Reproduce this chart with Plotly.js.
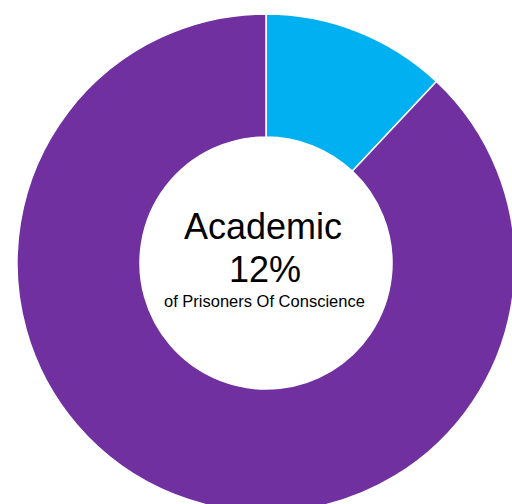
<!DOCTYPE html>
<html>
<head>
<meta charset="utf-8">
<script src="https://cdn.plot.ly/plotly-3.0.1.min.js"></script>
<style>
html, body { margin: 0; padding: 0; overflow: hidden; background: #fff; width: 512px; height: 504px; }
#chart { width: 532px; height: 526px; }
</style>
</head>
<body>
<div id="chart"></div>
<script>
const categories = ['Academic', 'Other'];
const values = [12, 88];
const colors = ['#00B0F0', '#7030A0'];
const centerTitle = 'Academic';
const centerValue = '12%';
const centerSubtitle = 'of Prisoners Of Conscience';

const W = 532, H = 526;
const py = p => (H - p) / H;

const data = [{
  type: 'pie',
  labels: categories,
  values: values,
  hole: 0.506,
  sort: false,
  direction: 'clockwise',
  rotation: 0,
  textinfo: 'none',
  hoverinfo: 'none',
  marker: { colors: colors, line: { color: '#ffffff', width: 1.5 } },
  domain: { x: [17 / W, 515 / W], y: [14 / H, 512 / H] }
}];

const font = 'Liberation Sans, Arial, sans-serif';
const layout = {
  width: W, height: H,
  margin: { l: 0, r: 0, t: 0, b: 0 },
  showlegend: false,
  paper_bgcolor: '#ffffff',
  annotations: [
    { text: centerTitle, x: 263 / W, y: py(226), xref: 'paper', yref: 'paper', xanchor: 'center', yanchor: 'middle', showarrow: false, font: { family: font, size: 36, color: '#000' } },
    { text: centerValue, x: 265 / W, y: py(269.5), xref: 'paper', yref: 'paper', xanchor: 'center', yanchor: 'middle', showarrow: false, font: { family: font, size: 36, color: '#000' } },
    { text: centerSubtitle, x: 264 / W, y: py(300.5), xref: 'paper', yref: 'paper', xanchor: 'center', yanchor: 'middle', showarrow: false, font: { family: font, size: 16.5, color: '#000' } }
  ]
};

Plotly.newPlot('chart', data, layout, { displayModeBar: false, staticPlot: true });
</script>
</body>
</html>
